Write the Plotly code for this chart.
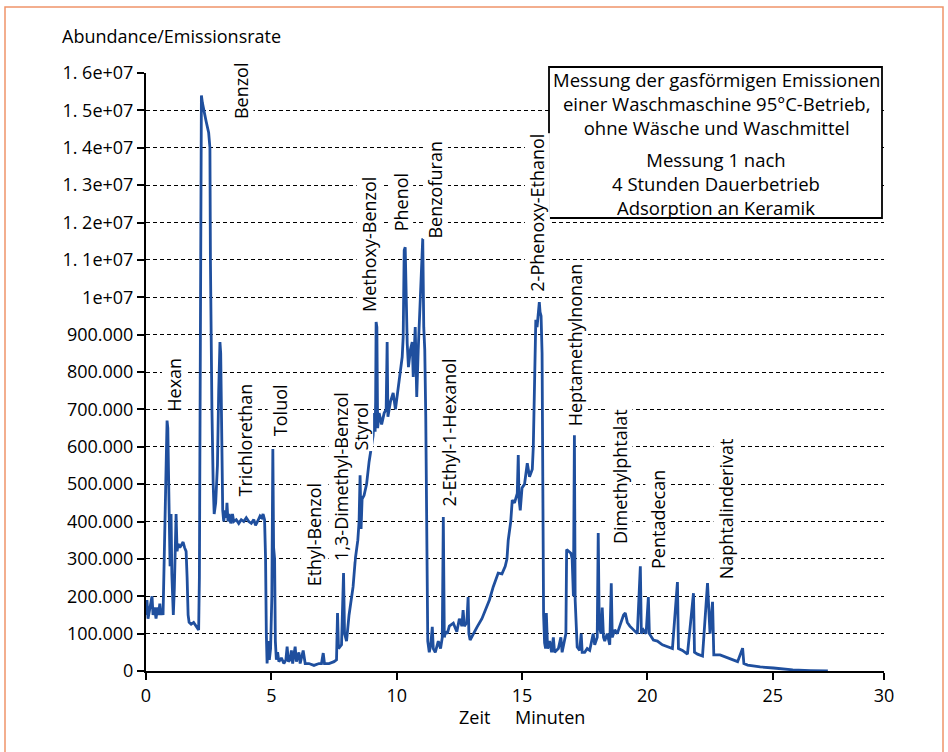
import plotly.graph_objects as go

# ---------------- data ----------------
time_min = [
    0.00, 0.04, 0.08, 0.14, 0.20, 0.24, 0.28, 0.34, 0.40, 0.46, 0.50, 0.55, 0.60, 0.64, 0.68,
    0.72, 0.76, 0.80, 0.84, 0.87, 0.90, 0.93, 0.96, 1.00, 1.03, 1.06, 1.09, 1.13, 1.17, 1.20,
    1.24, 1.28, 1.35, 1.42, 1.48, 1.54, 1.60, 1.64, 1.68, 1.72, 1.80, 1.90, 2.00, 2.06, 2.10,
    2.13, 2.16, 2.19, 2.21, 2.25, 2.30, 2.40, 2.50, 2.55, 2.57, 2.60, 2.63, 2.68, 2.72, 2.78,
    2.85, 2.90, 2.95, 2.98, 3.02, 3.06, 3.10, 3.15, 3.20, 3.23, 3.27, 3.32, 3.38, 3.45, 3.50,
    3.60, 3.70, 3.80, 3.90, 4.00, 4.10, 4.20, 4.30, 4.37, 4.45, 4.55, 4.62, 4.67, 4.73, 4.77,
    4.80, 4.83, 4.88, 4.92, 4.97, 5.02, 5.06, 5.09, 5.13, 5.16, 5.20, 5.25, 5.30, 5.40, 5.50,
    5.58, 5.63, 5.68, 5.75, 5.80, 5.85, 5.95, 6.00, 6.10, 6.15, 6.27, 6.35, 6.50, 6.70, 6.90,
    7.00, 7.07, 7.12, 7.30, 7.50, 7.60, 7.64, 7.68, 7.80, 7.88, 7.92, 8.00, 8.10, 8.20, 8.26,
    8.35, 8.45, 8.50, 8.54, 8.58, 8.62, 8.70, 8.80, 8.90, 9.00, 9.06, 9.10, 9.14, 9.16, 9.18,
    9.21, 9.24, 9.30, 9.40, 9.50, 9.58, 9.62, 9.65, 9.75, 9.86, 9.95, 10.05, 10.14, 10.22, 10.26,
    10.30, 10.34, 10.37, 10.42, 10.47, 10.55, 10.62, 10.66, 10.74, 10.80, 10.86, 10.94, 11.00, 11.04, 11.08,
    11.12, 11.16, 11.20, 11.24, 11.30, 11.36, 11.42, 11.46, 11.54, 11.60, 11.66, 11.75, 11.82, 11.86, 11.90,
    11.95, 12.02, 12.10, 12.26, 12.40, 12.50, 12.60, 12.65, 12.70, 12.80, 12.85, 12.88, 12.93, 13.05, 13.21,
    13.40, 13.61, 13.70, 13.85, 14.00, 14.05, 14.20, 14.33, 14.40, 14.45, 14.55, 14.61, 14.70, 14.81, 14.85,
    14.88, 14.93, 15.00, 15.10, 15.21, 15.30, 15.41, 15.45, 15.50, 15.55, 15.60, 15.66, 15.69, 15.72, 15.76,
    15.80, 15.83, 15.86, 15.90, 15.94, 15.97, 16.02, 16.10, 16.18, 16.25, 16.30, 16.45, 16.55, 16.60, 16.70,
    16.75, 16.78, 16.85, 16.95, 17.00, 17.05, 17.09, 17.12, 17.20, 17.30, 17.36, 17.40, 17.50, 17.60, 17.70,
    17.84, 17.90, 18.00, 18.04, 18.08, 18.15, 18.20, 18.25, 18.30, 18.40, 18.50, 18.56, 18.60, 18.70, 18.80,
    18.95, 19.05, 19.12, 19.20, 19.30, 19.44, 19.60, 19.72, 19.76, 19.84, 19.95, 20.04, 20.08, 20.24, 20.40,
    20.60, 20.80, 21.00, 21.20, 21.24, 21.40, 21.60, 21.84, 21.88, 22.00, 22.20, 22.40, 22.50, 22.60, 22.65,
    22.90, 23.20, 23.43, 23.60, 23.80, 23.85, 24.00, 24.50, 25.03, 25.80, 26.50, 27.20,
]
# abundance in units of one grid step of the y axis
abundance = [
    1.5, 1.9, 1.4, 1.6, 1.8, 2.0, 1.5, 1.7, 1.4, 1.7, 1.5, 1.8, 1.5, 1.6, 1.5,
    3.0, 4.5, 6.0, 6.7, 6.5, 5.6, 4.0, 2.8, 4.2, 2.6, 1.8, 1.5, 2.2, 4.1, 4.2,
    3.2, 3.4, 3.3, 3.4, 3.45, 3.3, 3.2, 2.5, 1.5, 1.3, 1.25, 1.3, 1.2, 1.15, 1.1,
    2.5, 8.0, 13.0, 15.4, 15.2, 15.0, 14.7, 14.4, 14.0, 11.0, 8.0, 7.0, 5.0, 4.2, 4.5,
    5.5, 7.5, 8.8, 8.5, 6.0, 4.3, 4.0, 4.3, 4.1, 4.5, 4.0, 4.2, 3.95, 4.2, 4.0,
    4.05, 3.95, 4.05, 4.0, 4.1, 4.0, 3.95, 4.05, 3.9, 4.0, 4.15, 4.1, 4.2, 4.05, 3.0,
    1.0, 0.2, 0.8, 0.3, 0.6, 2.0, 5.94, 3.3, 3.0, 0.8, 0.3, 0.5, 0.25, 0.35, 0.2,
    0.3, 0.65, 0.25, 0.3, 0.55, 0.2, 0.65, 0.25, 0.5, 0.2, 0.55, 0.2, 0.2, 0.15, 0.2,
    0.2, 0.48, 0.2, 0.2, 0.25, 0.3, 1.55, 0.6, 0.7, 2.62, 1.0, 0.8, 1.5, 2.0, 2.25,
    3.0, 3.5, 4.0, 5.24, 3.8, 4.6, 4.7, 5.0, 5.6, 6.0, 6.3, 6.9, 6.4, 7.2, 9.34,
    9.2, 6.5, 6.9, 6.6, 6.9, 7.0, 8.8, 6.8, 7.2, 7.44, 7.0, 7.5, 7.87, 8.4, 8.94,
    11.26, 11.34, 9.9, 8.77, 8.13, 8.6, 8.8, 7.87, 9.2, 7.33, 8.6, 9.93, 11.0, 11.58, 9.2,
    8.6, 6.8, 3.0, 0.8, 0.5, 0.7, 1.18, 0.6, 0.5, 0.7, 0.8, 0.6, 0.9, 4.12, 0.9,
    1.05, 1.0, 1.2, 1.28, 1.05, 1.4, 1.2, 1.63, 1.2, 1.3, 1.98, 1.0, 0.83, 1.0, 1.18,
    1.4, 1.72, 1.9, 2.25, 2.5, 2.62, 2.6, 2.8, 3.0, 3.5, 4.0, 4.57, 4.5, 4.75, 5.78,
    4.6, 4.3, 4.9, 5.0, 5.56, 5.2, 5.4, 6.0, 8.0, 9.4, 9.2, 9.6, 9.87, 9.6, 9.5,
    8.5, 5.0, 1.5, 0.75, 0.6, 1.55, 0.6, 0.8, 0.5, 0.9, 0.5, 0.6, 0.9, 0.5, 0.8,
    1.0, 3.25, 3.2, 3.15, 3.0, 2.0, 6.31, 1.9, 0.64, 0.55, 1.0, 0.5, 0.5, 0.6, 0.55,
    1.0, 0.7, 0.9, 3.69, 1.2, 1.0, 1.7, 0.9, 0.8, 1.0, 0.7, 2.35, 0.9, 1.1, 1.0,
    1.3, 1.5, 1.55, 1.3, 1.2, 1.1, 1.0, 2.8, 1.0, 1.1, 1.0, 1.98, 1.0, 0.83, 0.8,
    0.7, 0.64, 0.6, 2.38, 0.6, 0.55, 0.45, 2.08, 0.5, 0.45, 0.4, 2.35, 1.0, 1.85, 0.43,
    0.43, 0.35, 0.29, 0.25, 0.61, 0.2, 0.16, 0.11, 0.08, 0.03, 0.01, 0.0,
]

y_tick_vals = list(range(17))
y_tick_text = ["0", "100.000", "200.000", "300.000", "400.000", "500.000", "600.000",
               "700.000", "800.000", "900.000", "1e+07", "1. 1e+07", "1. 2e+07",
               "1. 3e+07", "1. 4e+07", "1. 5e+07", "1. 6e+07"]
x_tick_vals = [0, 5, 10, 15, 20, 25, 29.44]
x_tick_text = ["0", "5", "10", "15", "20", "25", "30"]

compounds = ["Hexan", "Benzol", "Trichlorethan", "Toluol", "Ethyl-Benzol",
             "1,3-Dimethyl-Benzol", "Styrol", "Methoxy-Benzol", "Phenol", "Benzofuran",
             "2-Ethyl-1-Hexanol", "2-Phenoxy-Ethanol", "Heptamethylnonan",
             "Dimethylphtalat", "Pentadecan", "Naphtalinderivat"]
# label anchor (time of label centre, y of label foot)
label_t = [1.14, 3.77, 3.95, 5.35, 6.70, 7.80, 8.56, 8.92, 10.15, 11.55,
           12.07, 15.62, 17.15, 18.89, 20.40, 23.12]
label_y = [6.90, 14.74, 4.63, 6.26, 2.25, 2.92, 5.86, 9.58, 11.75, 11.53,
           4.36, 10.11, 6.53, 3.37, 2.70, 2.43]

info_par1 = ["Messung der gasförmigen Emissionen",
             "einer Waschmaschine 95°C-Betrieb,",
             "ohne Wäsche und Waschmittel"]
info_par2 = ["Messung 1 nach",
             "4 Stunden Dauerbetrieb",
             "Adsorption an Keramik"]

# ---------------- figure ----------------
FONT = "Open Sans"
FS = 18
W, H = 948, 752
L, R, T, B = 146, 64, 73, 81
PW, PH = W - L - R, H - T - B

def px(xp):
    return (xp - L) / PW

def py(yp):
    return (H - B - yp) / PH

fig = go.Figure()
fig.add_trace(go.Scatter(
    x=time_min, y=abundance, mode="lines",
    line=dict(color="#1f4f9e", width=2.8),
    hoverinfo="skip", showlegend=False,
))

annotations = []
for name, lt, ly in zip(compounds, label_t, label_y):
    annotations.append(dict(
        x=lt, y=ly, xref="x", yref="y", text=name, textangle=-90,
        showarrow=False, xanchor="center", yanchor="bottom",
        font=dict(family=FONT, size=FS, color="black"),
        bgcolor="white", borderpad=0,
    ))

# info box text paragraphs
for par, yy in ((info_par1, 104), (info_par2, 183)):
    annotations.append(dict(
        x=px(716), y=py(yy), xref="paper", yref="paper", text="<br>".join(par),
        showarrow=False, xanchor="center", yanchor="middle", align="center",
        font=dict(family=FONT, size=18.5, color="black"),
    ))

annotations.append(dict(
    x=px(60), y=py(36), xref="paper", yref="paper", text="Abundance/Emissionsrate",
    showarrow=False, xanchor="left", yanchor="middle",
    font=dict(family=FONT, size=FS, color="black"),
))
annotations.append(dict(
    x=px(474), y=py(717), xref="paper", yref="paper", text="Zeit",
    showarrow=False, xanchor="center", yanchor="middle",
    font=dict(family=FONT, size=FS, color="black"),
))
annotations.append(dict(
    x=px(550), y=py(717), xref="paper", yref="paper", text="Minuten",
    showarrow=False, xanchor="center", yanchor="middle",
    font=dict(family=FONT, size=FS, color="black"),
))

shapes = [
    # info box
    dict(type="rect", xref="paper", yref="paper",
         x0=px(549), x1=px(882), y0=py(218), y1=py(67),
         line=dict(color="black", width=1.8), fillcolor="white", layer="above"),
    # outer orange frame
    dict(type="rect", xref="paper", yref="paper",
         x0=px(5), x1=px(943), y0=py(770), y1=py(7),
         line=dict(color="#f0946a", width=1.5), fillcolor="rgba(0,0,0,0)"),
]

fig.update_layout(
    width=W, height=H,
    margin=dict(l=L, r=R, t=T, b=B),
    paper_bgcolor="white", plot_bgcolor="white",
    font=dict(family=FONT, size=FS, color="black"),
    annotations=annotations, shapes=shapes,
    xaxis=dict(range=[0, 29.44], tickvals=x_tick_vals, ticktext=x_tick_text,
               showgrid=False, zeroline=False, showline=True,
               linecolor="black", linewidth=2, ticks="outside", ticklen=7,
               tickwidth=2, tickcolor="black", fixedrange=True),
    yaxis=dict(range=[0, 16], tickvals=y_tick_vals, ticktext=y_tick_text,
               showgrid=True, gridcolor="black", gridwidth=1, griddash="4px,3px",
               zeroline=False, showline=True, linecolor="black", linewidth=2,
               ticks="outside", ticklen=7, tickwidth=2, tickcolor="black",
               fixedrange=True),
)

fig.write_html("out.html", config={"displayModeBar": False},
               post_script="document.body.style.margin='0';")
